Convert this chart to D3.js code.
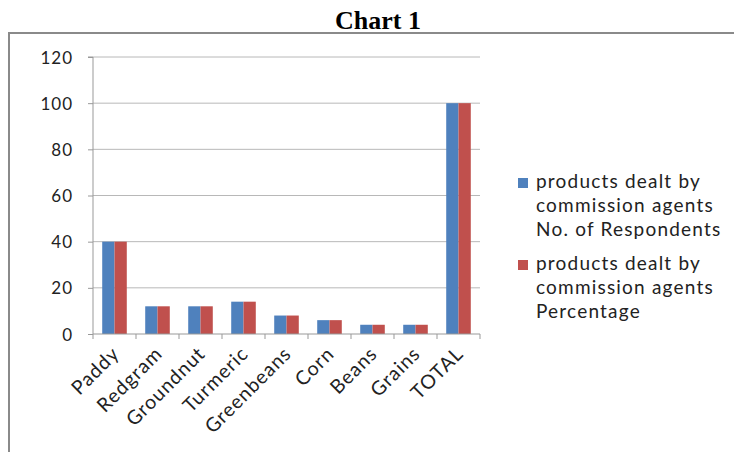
<!DOCTYPE html>
<html><head><meta charset="utf-8">
<script src="https://cdn.jsdelivr.net/npm/d3@7"></script>
<style>body{margin:0;background:#fff}svg{display:block}</style>
</head><body>
<svg id="c" width="734" height="452"></svg>
<script>
const categories = ["Paddy","Redgram","Groundnut","Turmeric","Greenbeans","Corn","Beans","Grains","TOTAL"];
const respondents = [40,12,12,14,8,6,4,4,100];
const percentage = [40,12,12,14,8,6,4,4,100];
const seriesNames = [["products dealt by","commission agents","No. of Respondents"],["products dealt by","commission agents","Percentage"]];
const yTicks = [0,20,40,60,80,100,120];
const colors = ["#4F81BD","#C0504D"];
const font = "Lato, 'Open Sans', sans-serif";

const svg = d3.select("#c");
svg.append("text").attr("x",378).attr("y",29).attr("text-anchor","middle")
  .attr("font-family","'Liberation Serif','Times New Roman',serif").attr("font-weight","bold")
  .attr("font-size",26).text("Chart 1");
svg.append("rect").attr("x",9).attr("y",33).attr("width",760).attr("height",440)
  .attr("fill","none").attr("stroke","#8a8a8a").attr("stroke-width",2);

const x0 = 93, x1 = 480, yTop = 57, yBot = 334;
const x = d3.scaleBand().domain(categories).range([x0,x1]).paddingInner(0).paddingOuter(0);
const y = d3.scaleLinear().domain([0,120]).range([yBot,yTop]);
const sub = d3.scaleBand().domain([0,1]).range([0,x.bandwidth()]).paddingInner(0).paddingOuter(0.75);

const g = svg.append("g");
g.selectAll("line.grid").data(yTicks.filter(d=>d>0)).join("line")
  .attr("x1",x0).attr("x2",x1).attr("y1",d=>y(d)).attr("y2",d=>y(d))
  .attr("stroke","#b8b8b8").attr("stroke-width",1);

const series = [respondents, percentage];
series.forEach((vals,si)=>{
  g.selectAll("rect.s"+si).data(vals).join("rect")
    .attr("x",(d,i)=>x(categories[i])+sub(si)).attr("width",sub.bandwidth())
    .attr("y",d=>y(d)).attr("height",d=>yBot-y(d)).attr("fill",colors[si]);
});

// y axis
const ya = g.append("g").attr("transform",`translate(${x0},0)`)
  .call(d3.axisLeft(y).tickValues(yTicks).tickSize(5).tickPadding(15));
ya.select(".domain").attr("stroke","#999").attr("d",`M-5,${yTop}H0V${yBot}`);
ya.selectAll(".tick line").attr("stroke","#999");
ya.selectAll("text").attr("font-family",font).attr("font-size",17).attr("letter-spacing",1)
  .attr("fill","#222").attr("dy","0.36em");

// x axis
const xa = g.append("g").attr("transform",`translate(0,${yBot})`);
xa.append("line").attr("x1",x0).attr("x2",x1).attr("stroke","#999");
const bounds = categories.map(c=>x(c)).concat([x1]);
xa.selectAll("line.t").data(bounds).join("line").attr("x1",d=>d).attr("x2",d=>d)
  .attr("y1",0).attr("y2",5).attr("stroke","#999");
xa.selectAll("text").data(categories).join("text")
  .attr("transform",d=>`translate(${x(d)+x.bandwidth()/2+6},${21}) rotate(-45)`)
  .attr("text-anchor","end").attr("font-family",font).attr("font-size",19.5)
  .attr("letter-spacing",1).attr("fill","#222")
  .text(d=>d);

// legend
const leg = svg.append("g");
seriesNames.forEach((lines,i)=>{
  const by = 188 + i*82;
  leg.append("rect").attr("x",518).attr("y",by-10).attr("width",10).attr("height",10).attr("fill",colors[i]);
  lines.forEach((t,j)=>{
    leg.append("text").attr("x",536).attr("y",by+j*24).attr("font-family",font)
      .attr("font-size",19).attr("letter-spacing",1.2).attr("fill","#222").text(t);
  });
});
</script>
</body></html>
